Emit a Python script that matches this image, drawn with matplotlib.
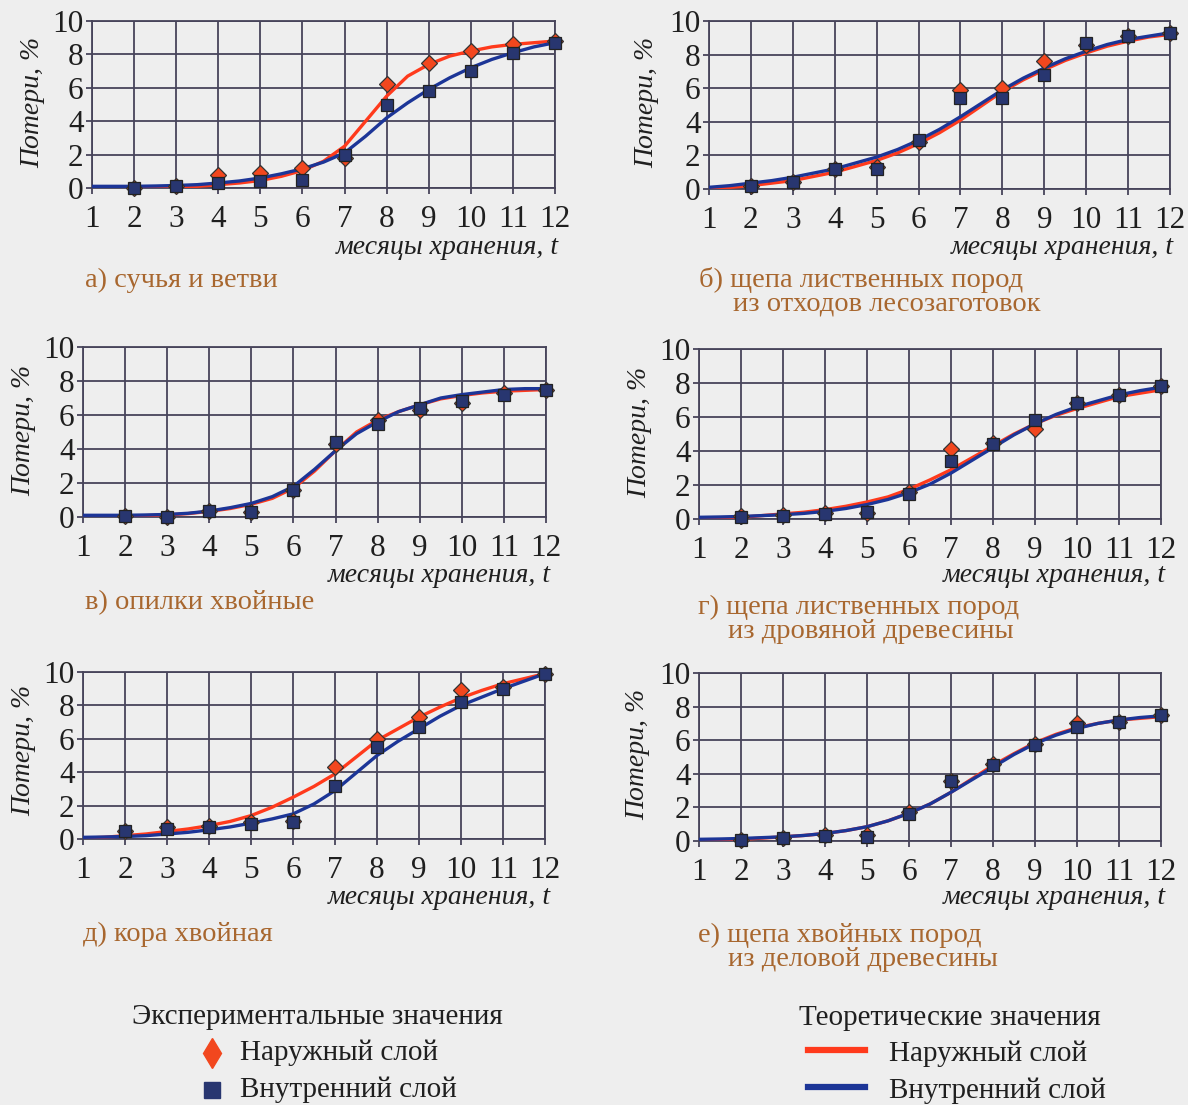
import matplotlib
matplotlib.use("Agg")
import matplotlib.pyplot as plt

plt.rcParams['font.family'] = ['Liberation Serif', 'DejaVu Serif']

W, H = 1188, 1105

# experimental points, months 2..12
months = [2, 3, 4, 5, 6, 7, 8, 9, 10, 11, 12]
# theoretical curves read every half month, 1..12
t_half = [1, 1.5, 2, 2.5, 3, 3.5, 4, 4.5, 5, 5.5, 6, 6.5,
          7, 7.5, 8, 8.5, 9, 9.5, 10, 10.5, 11, 11.5, 12]

# а) сучья и ветви
a_outer = [0.0, 0.1, 0.8, 0.9, 1.2, 1.8, 6.2, 7.5, 8.2, 8.6, 8.8]
a_inner = [0.0, 0.1, 0.3, 0.4, 0.5, 2.0, 5.0, 5.8, 7.0, 8.1, 8.7]
a_outer_th = [0, 0, 0, 0.02, 0.05, 0.1, 0.2, 0.3, 0.45, 0.7, 1.05, 1.6,
              2.5, 4.0, 5.5, 6.7, 7.4, 7.9, 8.2, 8.45, 8.6, 8.7, 8.8]
a_inner_th = [0.1, 0.1, 0.1, 0.12, 0.15, 0.2, 0.3, 0.42, 0.6, 0.85, 1.15, 1.55,
              2.1, 3.1, 4.2, 5.1, 5.9, 6.6, 7.2, 7.7, 8.1, 8.45, 8.7]

# б) щепа лиственных пород из отходов лесозаготовок
b_outer = [0.2, 0.4, 1.2, 1.3, 2.8, 5.9, 6.0, 7.6, 8.6, 9.1, 9.3]
b_inner = [0.2, 0.4, 1.2, 1.2, 2.9, 5.4, 5.4, 6.8, 8.7, 9.1, 9.3]
b_outer_th = [0.0, 0.1, 0.2, 0.35, 0.5, 0.75, 1.0, 1.35, 1.7, 2.15, 2.7, 3.35,
              4.1, 4.95, 5.8, 6.5, 7.1, 7.65, 8.1, 8.5, 8.8, 9.05, 9.2]
b_inner_th = [0.1, 0.2, 0.35, 0.5, 0.7, 0.95, 1.2, 1.55, 1.9, 2.35, 2.9, 3.55,
              4.3, 5.1, 5.9, 6.6, 7.2, 7.75, 8.2, 8.6, 8.9, 9.1, 9.3]

# в) опилки хвойные
v_outer = [0.05, 0.0, 0.35, 0.3, 1.6, 4.3, 5.7, 6.3, 6.7, 7.3, 7.5]
v_inner = [0.05, 0.0, 0.35, 0.3, 1.6, 4.4, 5.5, 6.4, 6.8, 7.2, 7.5]
v_outer_th = [0.0, 0.0, 0.05, 0.08, 0.12, 0.2, 0.33, 0.5, 0.75, 1.1, 1.7, 2.7,
              3.9, 5.0, 5.7, 6.2, 6.6, 6.95, 7.15, 7.3, 7.4, 7.45, 7.5]
v_inner_th = [0.1, 0.1, 0.1, 0.12, 0.15, 0.22, 0.35, 0.55, 0.8, 1.2, 1.8, 2.8,
              3.9, 4.9, 5.6, 6.2, 6.6, 7.0, 7.2, 7.35, 7.5, 7.55, 7.55]

# г) щепа лиственных пород из дровяной древесины
g_outer = [0.15, 0.25, 0.35, 0.35, 1.6, 4.1, 4.5, 5.3, 6.8, 7.3, 7.8]
g_inner = [0.1, 0.2, 0.3, 0.4, 1.5, 3.4, 4.4, 5.8, 6.8, 7.3, 7.8]
g_outer_th = [0.0, 0.05, 0.1, 0.2, 0.3, 0.4, 0.55, 0.75, 1.0, 1.3, 1.75, 2.3,
              2.9, 3.6, 4.3, 5.0, 5.6, 6.1, 6.5, 6.85, 7.2, 7.4, 7.6]
g_inner_th = [0.1, 0.12, 0.15, 0.2, 0.25, 0.33, 0.45, 0.62, 0.85, 1.15, 1.55, 2.05,
              2.7, 3.45, 4.2, 4.95, 5.6, 6.15, 6.6, 6.95, 7.3, 7.55, 7.75]

# д) кора хвойная
d_outer = [0.5, 0.7, 0.8, 1.0, 1.1, 4.3, 6.0, 7.3, 8.9, 9.1, 9.9]
d_inner = [0.5, 0.6, 0.7, 0.9, 1.0, 3.2, 5.5, 6.7, 8.2, 9.0, 9.9]
d_outer_th = [0.05, 0.1, 0.2, 0.3, 0.45, 0.6, 0.8, 1.05, 1.4, 1.9, 2.5, 3.15,
              3.9, 4.9, 5.9, 6.6, 7.3, 7.9, 8.45, 8.9, 9.3, 9.6, 9.9]
d_inner_th = [0.1, 0.12, 0.15, 0.2, 0.3, 0.4, 0.55, 0.72, 0.95, 1.2, 1.5, 2.1,
              2.9, 3.95, 5.0, 5.85, 6.6, 7.35, 8.0, 8.5, 9.0, 9.45, 9.9]

# е) щепа хвойных пород из деловой древесины
e_outer = [0.05, 0.15, 0.35, 0.35, 1.7, 3.6, 4.6, 5.8, 7.0, 7.1, 7.5]
e_inner = [0.05, 0.15, 0.3, 0.25, 1.6, 3.6, 4.5, 5.7, 6.8, 7.1, 7.5]
e_outer_th = [0.0, 0.05, 0.1, 0.17, 0.25, 0.33, 0.45, 0.62, 0.85, 1.2, 1.65, 2.2,
              2.9, 3.7, 4.5, 5.2, 5.85, 6.35, 6.75, 7.0, 7.2, 7.3, 7.4]
e_inner_th = [0.1, 0.12, 0.15, 0.2, 0.25, 0.33, 0.45, 0.62, 0.85, 1.2, 1.65, 2.2,
              2.9, 3.65, 4.4, 5.15, 5.8, 6.3, 6.7, 7.0, 7.2, 7.35, 7.45]

x_ticks = list(range(1, 13))
y_ticks = [0, 2, 4, 6, 8, 10]

RED = '#ff3a1c'
BLUE = '#1c3597'
DIAMOND = '#f2471e'
SQUARE = '#283670'
GRID = '#47445a'
BROWN = '#a8672f'
TEXT = '#1f1f1f'
BG = '#eeeeee'

# panel layout in pixels: box = left, right, top, bottom
panels = [
    dict(box=(92, 555, 21, 188), ylab=(33, 102), xlab=(559, 247),
         data=(a_outer, a_inner, a_outer_th, a_inner_th),
         caption=[(85, 280, 'а) сучья и ветви')]),
    dict(box=(709, 1170, 21, 189), ylab=(647, 102), xlab=(1174, 247),
         data=(b_outer, b_inner, b_outer_th, b_inner_th),
         caption=[(699, 280, 'б) щепа лиственных пород'),
                  (733, 304, 'из отходов лесозаготовок')]),
    dict(box=(83, 546, 347, 517), ylab=(24, 430), xlab=(551, 575),
         data=(v_outer, v_inner, v_outer_th, v_inner_th),
         caption=[(85, 603, 'в) опилки хвойные')]),
    dict(box=(699, 1161, 349, 519), ylab=(640, 432), xlab=(1166, 575),
         data=(g_outer, g_inner, g_outer_th, g_inner_th),
         caption=[(698, 607, 'г) щепа лиственных пород'),
                  (728, 631, 'из дровяной древесины')]),
    dict(box=(83, 545, 672, 839), ylab=(24, 750), xlab=(551, 897),
         data=(d_outer, d_inner, d_outer_th, d_inner_th),
         caption=[(83, 934, 'д) кора хвойная')]),
    dict(box=(699, 1161, 673, 841), ylab=(638, 754), xlab=(1166, 898),
         data=(e_outer, e_inner, e_outer_th, e_inner_th),
         caption=[(698, 935, 'е) щепа хвойных пород'),
                  (728, 959, 'из деловой древесины')]),
]


def fx(px):
    return px / W


def fy(py):
    return 1 - py / H


fig = plt.figure(figsize=(W / 100, H / 100), dpi=100, facecolor=BG)

for p in panels:
    left, right, top, bottom = p['box']
    ax = fig.add_axes([fx(left), fy(bottom), (right - left) / W, (bottom - top) / H])
    ax.set_facecolor('none')
    outer, inner, outer_th, inner_th = p['data']

    ax.plot(t_half, outer_th, color=RED, lw=2.4, zorder=3, solid_capstyle='round')
    ax.plot(t_half, inner_th, color=BLUE, lw=2.4, zorder=4, solid_capstyle='round')
    ax.plot(months, outer, 'D', ms=8.5, mfc=DIAMOND, mec='#333333', mew=0.9,
            zorder=5, clip_on=False)
    ax.plot(months, inner, 's', ms=8.5, mfc=SQUARE, mec='#222222', mew=0.9,
            zorder=6, clip_on=False)

    ax.set_xlim(1, 12)
    ax.set_ylim(0, 10)
    ax.set_xticks(x_ticks)
    ax.set_yticks(y_ticks)
    ax.grid(True, color=GRID, lw=1.3, zorder=1)
    ax.set_axisbelow(True)
    for s in ax.spines.values():
        s.set_color(GRID)
        s.set_linewidth(1.3)
    ax.tick_params(length=4, width=1.3, color=GRID, labelsize=22.5,
                   labelcolor=TEXT, pad=2)
    ax.tick_params(axis='x', pad=8)

    fig.text(fx(p['ylab'][0]), fy(p['ylab'][1]), 'Потери, %', rotation=90,
             ha='center', va='center', fontsize=20, style='italic', color=TEXT)
    fig.text(fx(p['xlab'][0]), fy(p['xlab'][1]), 'месяцы хранения, t',
             ha='right', va='center', fontsize=20, style='italic', color=TEXT)
    for cx, cy, txt in p['caption']:
        fig.text(fx(cx), fy(cy), txt, ha='left', va='center', fontsize=20.5,
                 color=BROWN)

# legend drawn on an overlay in pixel units
lg = fig.add_axes([0, 0, 1, 1])
lg.set_xlim(0, W)
lg.set_ylim(H, 0)
lg.axis('off')
lg.patch.set_alpha(0)

lg.text(132, 1017, 'Экспериментальные значения', ha='left', va='center',
        fontsize=21, color=TEXT)
lg.plot([212], [1053], 'd', ms=15, mfc=DIAMOND, mec=DIAMOND)
lg.text(240, 1053, 'Наружный слой', ha='left', va='center', fontsize=21, color=TEXT)
lg.plot([212], [1090], 's', ms=12, mfc=SQUARE, mec=SQUARE)
lg.text(240, 1090, 'Внутренний слой', ha='left', va='center', fontsize=21, color=TEXT)

lg.text(799, 1018, 'Теоретические значения', ha='left', va='center',
        fontsize=21, color=TEXT)
lg.plot([808, 865], [1050, 1050], color=RED, lw=4.5)
lg.text(889, 1054, 'Наружный слой', ha='left', va='center', fontsize=21, color=TEXT)
lg.plot([808, 865], [1087, 1087], color=BLUE, lw=4.5)
lg.text(889, 1091, 'Внутренний слой', ha='left', va='center', fontsize=21, color=TEXT)

fig.savefig('out.png', dpi=100, facecolor=BG)
